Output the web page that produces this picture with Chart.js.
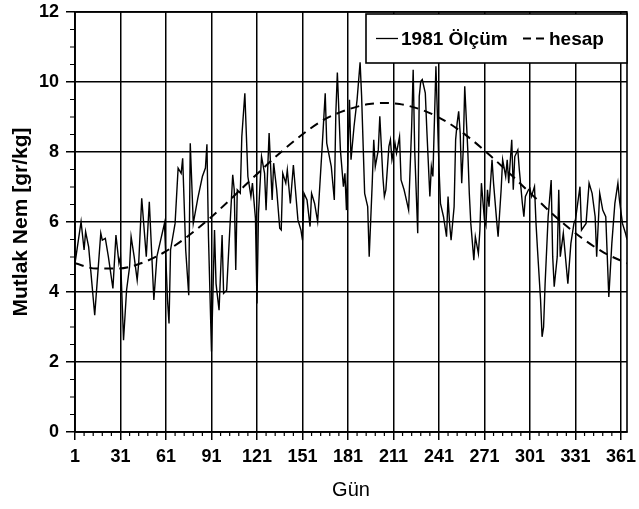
<!DOCTYPE html>
<html><head><meta charset="utf-8">
<script src="https://cdn.jsdelivr.net/npm/chart.js@4"></script>
<style>html,body{margin:0;padding:0;background:#fff}#wrap{width:639px;height:509px}</style>
</head><body><div id="wrap"><canvas id="c" width="639" height="509"></canvas></div>
<script>
// ---- data ----
const olcumDays = [1,5,7,8,10,14,18,19,21,23,26,28,30,31,33,35,37,38,40,42,
  43,45,48,50,53,55,58,60,62,63,64,67,69,71,72,74,76,77,79,82,85,87,88,89,
  91,93,94,96,98,99,101,103,105,106,107,108,110,111,113,115,117,118,120,121,122,124,126,127,129,131,132,134,136,
  137,138,140,141,143,145,148,150,151,152,154,156,157,159,161,162,164,166,167,170,172,173,174,176,178,179,180,182,
  183,185,187,189,190,192,194,195,197,198,199,201,202,204,205,206,208,209,210,212,213,215,216,218,219,221,223,224,225,227,228,
  229,230,232,233,235,236,237,239,240,241,242,244,246,247,248,249,251,252,253,254,255,256,257,258,260,261,262,264,265,267,268,269,271,272,273,274,
  276,277,279,280,282,283,285,286,287,289,290,291,293,294,296,297,298,300,301,302,304,305,306,308,309,310,311,313,315,316,317,319,320,
  321,323,326,328,330,331,334,335,338,340,342,344,345,347,349,351,353,355,357,359,360,362,364,365];
const olcumValues = [4.82,6.01,5.20,5.72,5.29,3.34,5.68,5.48,5.53,5.01,4.10,5.63,4.82,5.01,2.62,4.05,4.72,5.58,5.01,4.34,
  4.82,6.68,5.01,6.58,3.77,5.01,5.58,5.96,3.77,3.10,5.20,5.96,7.54,7.39,7.82,5.20,3.91,8.25,5.96,6.68,7.30,7.54,8.22,5.60,
  2.30,5.77,4.24,3.48,5.63,3.96,4.05,5.72,7.35,6.92,4.63,6.92,6.82,8.44,9.68,7.30,6.73,7.11,6.10,3.67,6.25,7.87,7.39,6.34,8.54,6.63,7.68,6.92,5.82,
  5.77,7.39,7.11,7.49,6.53,7.63,6.06,5.77,5.48,6.82,6.63,5.87,6.82,6.53,6.01,6.73,8.16,9.68,8.25,7.58,6.63,9.11,10.27,8.06,7.01,7.39,6.34,9.49,
  7.78,8.73,9.49,10.56,9.59,6.82,6.44,5.01,7.11,8.35,7.58,8.06,9.02,7.30,6.73,6.92,8.16,8.35,7.78,8.25,7.97,8.44,7.20,6.92,6.73,6.34,8.73,10.35,8.06,5.68,9.59,
  10.02,10.07,9.68,8.63,6.73,7.58,7.30,10.45,9.02,7.58,6.53,6.15,5.58,6.73,5.96,5.48,6.44,8.35,8.83,9.16,8.54,7.11,8.06,9.88,8.06,6.82,5.96,4.91,5.58,5.10,5.77,7.11,6.06,5.90,6.92,6.44,
  7.78,7.11,6.06,5.58,6.92,7.78,7.30,7.78,7.11,8.35,6.92,7.87,8.06,7.49,6.53,6.15,6.73,6.92,6.96,6.73,7.01,5.96,5.20,3.77,2.72,3.00,4.24,6.15,7.20,5.01,4.15,5.01,6.92,
  5.01,5.68,4.24,5.39,5.96,6.06,7.01,5.77,5.96,7.11,6.82,6.15,5.01,6.82,6.34,6.15,3.86,5.39,6.53,7.11,6.63,5.96,5.68,5.50];
const hesapDays = [1,15,30,45,60,75,90,105,120,135,150,165,180,195,205,215,230,245,260,275,290,305,320,335,350,365];
const hesapValues = [4.82,4.67,4.67,4.83,5.14,5.58,6.11,6.71,7.33,7.93,8.47,8.92,9.20,9.37,9.40,9.37,9.20,8.89,8.44,7.89,7.29,6.67,6.07,5.55,5.12,4.82];
const xTickValues = [1,31,61,91,121,151,181,211,241,271,301,331,361];
const yTickValues = [0,2,4,6,8,10,12];
const seriesLabels = ['1981 Ölçüm', 'hesap'];
const xTitle = 'Gün';
const yTitle = 'Mutlak Nem [gr/kg]';

const FONT = "'Liberation Sans', Arial, Helvetica, sans-serif";

const bgPlugin = {
  id: 'bg',
  beforeDraw(chart) {
    const ctx = chart.ctx;
    ctx.save(); ctx.fillStyle = '#fff'; ctx.fillRect(0, 0, chart.width, chart.height); ctx.restore();
  }
};

const framePlugin = {
  id: 'frame',
  afterDraw(chart) {
    const {ctx, chartArea: a, scales: {x, y}} = chart;
    ctx.save();
    ctx.strokeStyle = '#000';
    ctx.lineWidth = 1.6;
    ctx.strokeRect(a.left, a.top, a.right - a.left, a.bottom - a.top);
    // minor ticks
    ctx.lineWidth = 1.2;
    ctx.beginPath();
    for (let i = 0; i < xTickValues.length; i++) {
      const v0 = xTickValues[i];
      for (let k = 1; k < 5; k++) {
        const v = v0 + k * 6;
        if (v > x.max) break;
        const px = x.getPixelForValue(v);
        ctx.moveTo(px, a.bottom); ctx.lineTo(px, a.bottom + 4);
      }
    }
    for (let i = 0; i < yTickValues.length - 1; i++) {
      for (let k = 1; k < 4; k++) {
        const py = y.getPixelForValue(yTickValues[i] + k * 0.5);
        ctx.moveTo(a.left - 5, py); ctx.lineTo(a.left, py);
      }
    }
    ctx.stroke();
    // legend box
    const bx = a.right - 261, by = a.top + 2, bw = 261, bh = 49;
    ctx.fillStyle = '#fff';
    ctx.fillRect(bx, by, bw, bh);
    ctx.lineWidth = 1.6;
    ctx.strokeRect(bx, by, bw, bh);
    const cy = by + bh / 2;
    ctx.font = "bold 19px " + FONT;
    ctx.fillStyle = '#000';
    ctx.textBaseline = 'middle';
    ctx.textAlign = 'left';
    ctx.lineWidth = 1.3;
    ctx.setLineDash([]);
    ctx.beginPath(); ctx.moveTo(bx + 10, cy); ctx.lineTo(bx + 32, cy); ctx.stroke();
    ctx.fillText(chart.data.datasets[0].label, bx + 35, cy + 1);
    ctx.lineWidth = 1.8;
    ctx.setLineDash([8, 5]);
    ctx.beginPath(); ctx.moveTo(bx + 157, cy); ctx.lineTo(bx + 181, cy); ctx.stroke();
    ctx.setLineDash([]);
    ctx.fillText(chart.data.datasets[1].label, bx + 183, cy + 1);
    ctx.restore();
  }
};

const olcumData = olcumDays.map((d, i) => ({x: d, y: olcumValues[i]}));
const hesapData = hesapDays.map((d, i) => ({x: d, y: hesapValues[i]}));

new Chart(document.getElementById('c'), {
  type: 'line',
  data: {
    datasets: [
      {label: seriesLabels[0], data: olcumData, borderColor: '#000', borderWidth: 1.4, pointRadius: 0, tension: 0, fill: false},
      {label: seriesLabels[1], data: hesapData, borderColor: '#000', borderWidth: 2, borderDash: [9, 6], pointRadius: 0, tension: 0.4, cubicInterpolationMode: 'monotone', fill: false}
    ]
  },
  options: {
    responsive: false,
    animation: false,
    devicePixelRatio: 1,
    layout: {padding: {top: 12, right: 12, left: 0, bottom: 0}},
    plugins: {legend: {display: false}, tooltip: {enabled: false}},
    scales: {
      x: {
        type: 'linear', min: 1, max: 365,
        afterBuildTicks: s => { s.ticks = xTickValues.map(v => ({value: v})); },
        afterFit: s => { s.height = 77; s.paddingLeft = 0; s.paddingRight = 0; },
        ticks: {color: '#000', font: {family: FONT, size: 18, weight: 'bold'}, padding: 6, maxRotation: 0, autoSkip: false},
        grid: {color: '#000', lineWidth: 1.5, tickLength: 8, tickColor: '#000'},
        border: {color: '#000', width: 1.6},
        title: {display: true, text: xTitle, color: '#000', font: {family: FONT, size: 20, weight: 'normal'}, padding: {top: 0, bottom: 7}}
      },
      y: {
        type: 'linear', min: 0, max: 12,
        afterBuildTicks: s => { s.ticks = yTickValues.map(v => ({value: v})); },
        afterFit: s => { s.width = 75; s.paddingTop = 0; s.paddingBottom = 0; },
        ticks: {color: '#000', font: {family: FONT, size: 18, weight: 'bold'}, padding: 7},
        grid: {color: '#000', lineWidth: 1.5, tickLength: 9, tickColor: '#000'},
        border: {color: '#000', width: 1.6},
        title: {display: true, text: yTitle, color: '#000', font: {family: FONT, size: 21, weight: 'bold'}, padding: {top: 9, bottom: 0}}
      }
    }
  },
  plugins: [bgPlugin, framePlugin]
});
</script>
</body></html>
